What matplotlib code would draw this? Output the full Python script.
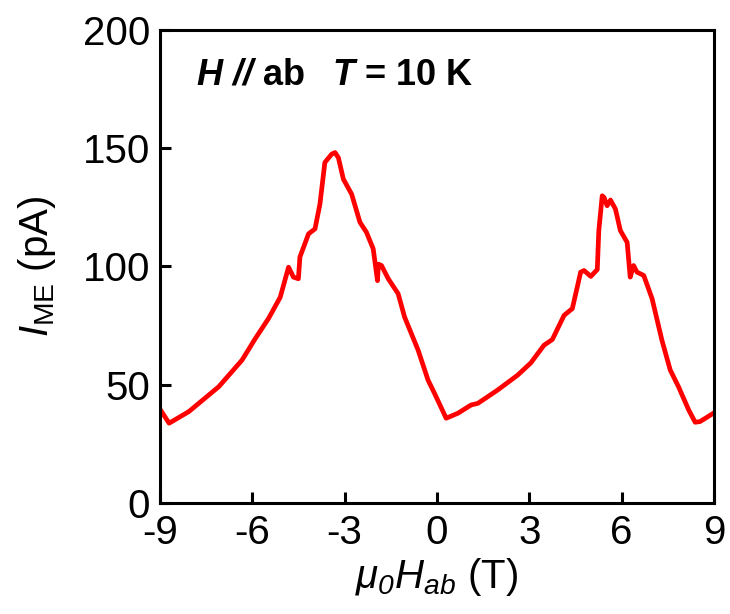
import matplotlib
matplotlib.use("Agg")
import matplotlib.pyplot as plt  # noqa: E402

plt.rcParams["font.family"] = ["Liberation Sans", "DejaVu Sans"]
plt.rcParams["mathtext.fontset"] = "custom"
plt.rcParams["mathtext.rm"] = "Liberation Sans"
plt.rcParams["mathtext.it"] = "Liberation Sans:italic"
plt.rcParams["mathtext.sf"] = "Liberation Sans:italic"
plt.rcParams["mathtext.bf"] = "Liberation Sans:bold"
plt.rcParams["mathtext.bfit"] = "Liberation Sans:bold:italic"

# magnetic field (T) vs magnetoelectric current (pA)
field = [-8.98, -8.7, -8.06, -7.09, -6.33, -5.9, -5.47, -5.09, -4.82, -4.66,
         -4.5, -4.45, -4.17, -3.96, -3.8, -3.64, -3.42, -3.31, -3.2, -3.04,
         -2.77, -2.5, -2.29, -2.07, -1.93, -1.9, -1.8, -1.58, -1.26, -1.05,
         -0.61, -0.29, -0.08, 0.30, 0.68, 1.11, 1.33, 1.97, 2.62, 3.05,
         3.48, 3.75, 4.13, 4.4, 4.67, 4.78, 5.0, 5.21, 5.26, 5.37,
         5.43, 5.53, 5.64, 5.8, 5.96, 6.18, 6.28, 6.39, 6.5, 6.72,
         6.99, 7.31, 7.58, 7.85, 8.18, 8.39, 8.55, 8.98]
current = [39.3, 33.7, 38.6, 49.1, 60.4, 69.5, 78.0, 87.0, 99.7, 95.5,
           94.8, 104.0, 113.8, 115.9, 126.4, 144.0, 147.5, 148.2, 146.0, 137.0,
           130.6, 118.7, 114.5, 107.5, 94.0, 101.0, 100.4, 94.8, 88.5, 78.6,
           64.6, 52.0, 46.4, 35.8, 37.9, 41.4, 42.1, 47.7, 54.0, 59.2,
           66.7, 69.1, 79.3, 82.2, 97.6, 98.3, 95.8, 98.7, 115.2, 129.9,
           129.2, 125.7, 128.1, 124.3, 115.2, 110.2, 95.5, 100.4, 97.6, 96.2,
           86.4, 68.8, 56.2, 49.1, 39.3, 34.1, 34.4, 37.9]

x_ticks = [-9, -6, -3, 0, 3, 6, 9]
y_ticks = [0, 50, 100, 150, 200]

fig = plt.figure(figsize=(7.3, 6.14), dpi=100)
ax = fig.add_axes([0.219, 0.181, 0.759, 0.770])
ax.plot(field, current, color="#ff0000", linewidth=3.4, solid_joinstyle="round")

ax.set_xlim(-9, 9)
ax.set_ylim(0, 200)
ax.set_xticks(x_ticks)
ax.set_xticklabels([str(v) for v in x_ticks])
ax.set_yticks(y_ticks)
ax.set_yticklabels([str(v) for v in y_ticks])
ax.tick_params(direction="in", length=8, width=2.2, labelsize=29, pad=7)
ax.tick_params(axis="x", pad=8)
for sp in ax.spines.values():
    sp.set_linewidth(2.2)

ax.set_xlabel(r"$\mu_{\mathsf{0}}H_{ab}$ (T)", fontsize=29, labelpad=3)
ax.set_ylabel(r"$I_{\mathrm{ME}}$ (pA)", fontsize=29, labelpad=18)

ax.text(0.065, 0.905, r"$\mathbfit{H\ //}$ ab", transform=ax.transAxes,
        fontsize=26, fontweight="bold", va="center", ha="left")
ax.text(0.31, 0.905, r"$\mathbfit{T}$ = 10 K", transform=ax.transAxes,
        fontsize=26, fontweight="bold", va="center", ha="left")

fig.savefig("out.png", dpi=100)
